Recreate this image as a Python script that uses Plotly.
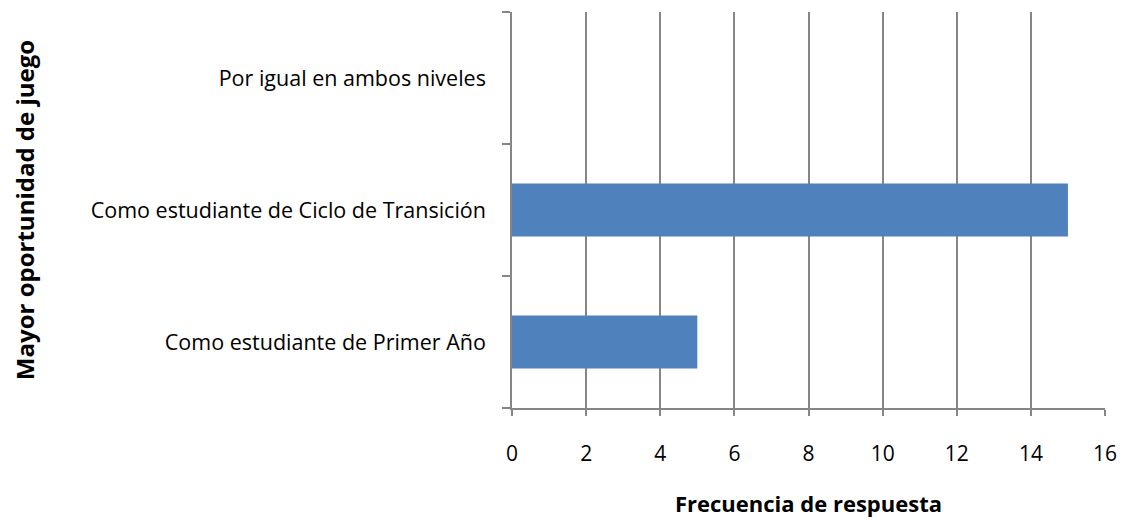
import plotly.graph_objects as go

categories = ["Como estudiante de Primer Año",
              "Como estudiante de Ciclo de Transición",
              "Por igual en ambos niveles"]
values = [5, 15, 0]
x_ticks = [0, 2, 4, 6, 8, 10, 12, 14, 16]

GRAY = "#868686"
FONT = "Open Sans"

fig = go.Figure(go.Bar(
    x=values, y=categories, orientation="h",
    marker=dict(color="#4F81BD", line=dict(width=0)),
))

# the page body adds an 8px offset; margins compensate for it
fig.update_layout(
    width=1127, height=518,
    margin=dict(l=501, r=30, t=4, b=118),
    paper_bgcolor="white", plot_bgcolor="white",
    bargap=0.6,
    showlegend=False,
    font=dict(family=FONT, color="black", size=21),
    xaxis=dict(
        range=[0, 16], tickvals=x_ticks, ticktext=[str(v) for v in x_ticks],
        showgrid=True, gridcolor=GRAY, gridwidth=1.5,
        showline=True, linecolor=GRAY, linewidth=1.5,
        ticks="outside", ticklen=6, tickcolor=GRAY, tickwidth=1.5,
        zeroline=False, ticklabelstandoff=20,
        title=dict(text="<b>Frecuencia de respuesta</b>", font=dict(size=22), standoff=31),
        tickfont=dict(size=21),
    ),
    yaxis=dict(
        type="category", categoryorder="array", categoryarray=categories,
        tickson="boundaries", ticks="outside", ticklen=8, tickcolor=GRAY, tickwidth=1.5,
        showline=True, linecolor=GRAY, linewidth=1.5,
        showgrid=False, zeroline=False, ticklabelstandoff=20,
        title=dict(text="<b>Mayor oportunidad de juego</b>", font=dict(size=24), standoff=62),
        tickfont=dict(size=21.5),
    ),
)

fig.write_html("out.html")
